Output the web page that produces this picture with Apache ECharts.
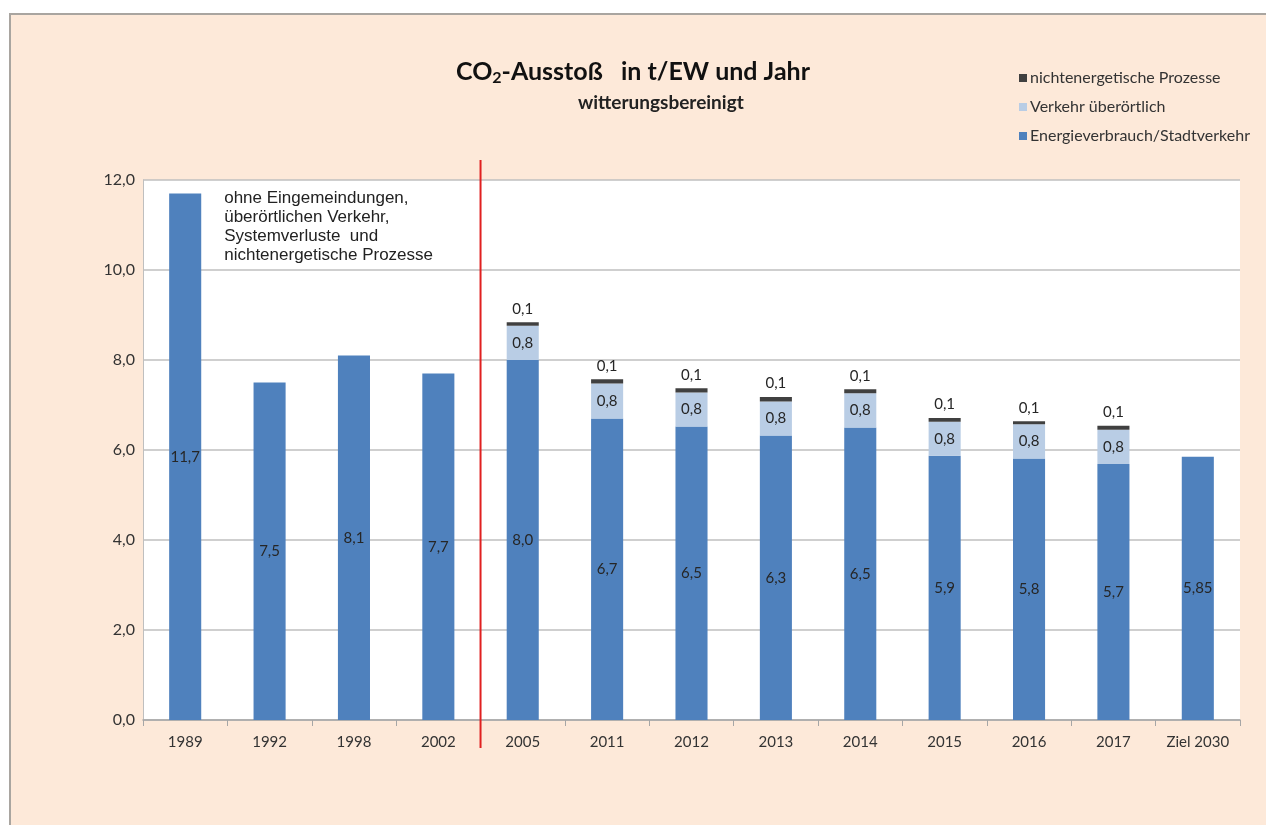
<!DOCTYPE html>
<html>
<head>
<meta charset="utf-8">
<script src="https://cdn.jsdelivr.net/npm/echarts@6/dist/echarts.min.js"></script>
<style>
  html, body { margin: 0; padding: 0; background: #ffffff; width: 1266px; height: 825px; overflow: hidden; }
  #frame { position: absolute; left: 9px; top: 13px; width: 1266px; height: 830px; background: #fde9d9; border-top: 2px solid #a9a5a0; border-left: 2px solid #a9a5a0; }
  #chart { position: absolute; left: 0; top: 0; width: 1266px; height: 825px; }
</style>
</head>
<body>
<div id="frame"></div>
<div id="chart"></div>
<script>
const categories = ['1989', '1992', '1998', '2002', '2005', '2011', '2012', '2013', '2014', '2015', '2016', '2017', 'Ziel 2030'];
const energie = [11.7, 7.5, 8.1, 7.7, 8.0, 6.7, 6.52, 6.32, 6.5, 5.87, 5.81, 5.69, 5.85];
const verkehr = [null, null, null, null, 0.76, 0.78, 0.76, 0.76, 0.76, 0.76, 0.76, 0.76, null];
const prozesse = [null, null, null, null, 0.08, 0.09, 0.09, 0.1, 0.09, 0.08, 0.07, 0.09, null];
const yTicks = [0, 2, 4, 6, 8, 10, 12];
const seriesNames = ['Energieverbrauch/Stadtverkehr', 'Verkehr überörtlich', 'nichtenergetische Prozesse'];
const noteLines = ['ohne Eingemeindungen,', 'überörtlichen Verkehr,', 'Systemverluste  und', 'nichtenergetische Prozesse'];

const calibri = 'Lato, "Open Sans", sans-serif';
const fmt = (v, d) => v.toFixed(d).replace('.', ',');

const chart = echarts.init(document.getElementById('chart'));
const labelBase = { fontFamily: calibri, fontSize: 15, color: '#262626' };

chart.setOption({
  backgroundColor: 'transparent',
  animation: false,
  title: [
    {
      text: '{a|CO}{s|2}{a|-Ausstoß   in t/EW und Jahr}',
      left: 'center',
      top: 52,
      textStyle: {
        rich: {
          a: { fontFamily: calibri, fontSize: 25, fontWeight: 'bold', color: '#111', lineHeight: 30 },
          s: { fontFamily: calibri, fontSize: 16, fontWeight: 'bold', color: '#111', lineHeight: 30, padding: [12, 0, 0, 0] }
        }
      }
    },
    {
      text: 'witterungsbereinigt',
      left: 573,
      top: 88,
      textStyle: { fontFamily: calibri, fontSize: 19, fontWeight: 'bold', color: '#222' }
    }
  ],
  legend: {
    orient: 'vertical',
    left: 1014,
    top: 65,
    itemWidth: 8,
    itemHeight: 8,
    itemGap: 13,
    icon: 'rect',
    data: [seriesNames[2], seriesNames[1], seriesNames[0]],
    textStyle: { fontFamily: calibri, fontSize: 16, color: '#333', padding: [0, 0, 0, -2] }
  },
  grid: {
    left: 143, right: 26, top: 180, bottom: 105,
    show: true, backgroundColor: '#ffffff', borderWidth: 0
  },
  xAxis: {
    type: 'category',
    data: categories,
    axisLine: { lineStyle: { color: '#a6a6a6', width: 1.5 } },
    axisTick: { show: true, length: 6, lineStyle: { color: '#a6a6a6' } },
    axisLabel: { fontFamily: calibri, fontSize: 15, color: '#333', margin: 15 }
  },
  yAxis: {
    type: 'value',
    min: 0, max: 12, interval: 2,
    axisLine: { show: true, lineStyle: { color: '#bfbfbf' } },
    axisTick: { show: false },
    axisLabel: { fontFamily: calibri, fontSize: 16, color: '#333', margin: 8, formatter: v => fmt(v, 1) },
    splitLine: { lineStyle: { color: '#bfbfbf', width: 1.5 } }
  },
  series: [
    {
      name: seriesNames[0], type: 'bar', stack: 't', barWidth: '38%',
      data: energie,
      itemStyle: { color: '#4f81bd' },
      label: Object.assign({ show: true, position: 'inside',
        formatter: p => fmt(p.value, p.name === 'Ziel 2030' ? 2 : 1) }, labelBase)
    },
    {
      name: seriesNames[1], type: 'bar', stack: 't', barWidth: '38%',
      data: verkehr,
      itemStyle: { color: '#b9cde5' },
      label: Object.assign({ show: true, position: 'inside',
        formatter: p => p.value == null ? '' : fmt(p.value, 1) }, labelBase)
    },
    {
      name: seriesNames[2], type: 'bar', stack: 't', barWidth: '38%',
      data: prozesse,
      itemStyle: { color: '#404040' },
      label: Object.assign({ show: true, position: 'top', distance: 6,
        formatter: p => p.value == null ? '' : fmt(p.value, 1) }, labelBase)
    }
  ]
});

// red separator between 2002 and 2005, and the note text next to 1989
const x3 = chart.convertToPixel({ xAxisIndex: 0 }, 3);
const x4 = chart.convertToPixel({ xAxisIndex: 0 }, 4);
const xSep = (x3 + x4) / 2;
const x0 = chart.convertToPixel({ xAxisIndex: 0 }, 0);
const yTop = chart.convertToPixel({ yAxisIndex: 0 }, 12);
chart.setOption({
  graphic: [
    {
      type: 'line', z: 100,
      shape: { x1: xSep, y1: yTop - 20, x2: xSep, y2: chart.convertToPixel({ yAxisIndex: 0 }, 0) + 28 },
      style: { stroke: '#e02020', lineWidth: 2 }
    },
    {
      type: 'text', z: 100,
      left: x0 + 39, top: yTop + 9,
      style: {
        text: noteLines.join('\n'),
        font: '17px "Liberation Sans", Arial, sans-serif',
        lineHeight: 19,
        fill: '#222'
      }
    }
  ]
});
</script>
</body>
</html>
